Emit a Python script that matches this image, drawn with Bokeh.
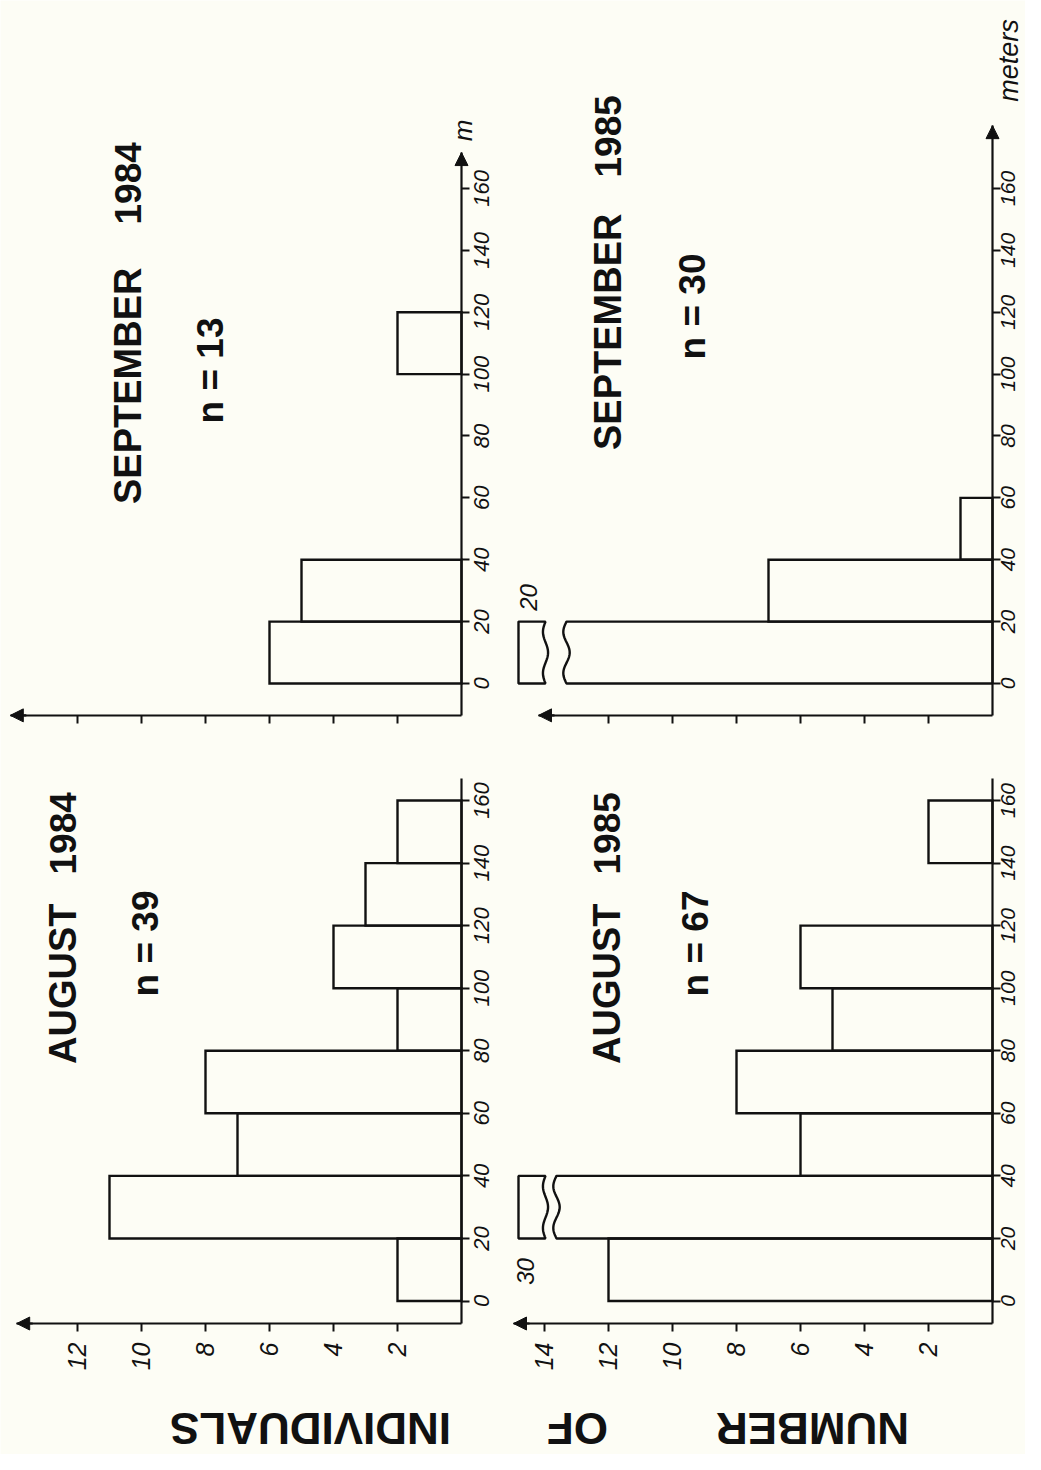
import math
import numpy as np
from bokeh.plotting import figure
from bokeh.models import Range1d, LinearAxis, FixedTicker, Arrow, NormalHead
from bokeh.core.properties import value
from bokeh.embed import file_html
from bokeh.resources import INLINE

# ---------------- data ----------------
bin_edges = [0, 20, 40, 60, 80, 100, 120, 140, 160]
meter_ticks = [0, 20, 40, 60, 80, 100, 120, 140, 160]
aug1984 = [2, 11, 7, 8, 2, 4, 3, 2]
sep1984 = [6, 5, 0, 0, 0, 2, 0, 0]
aug1985 = [12, 30, 6, 8, 5, 6, 0, 2]
sep1985 = [20, 7, 1, 0, 0, 0, 0, 0]
count_ticks_12 = [2, 4, 6, 8, 10, 12]
count_ticks_14 = [2, 4, 6, 8, 10, 12, 14]
months = ["SEPTEMBER", "SEPTEMBER", "AUGUST", "AUGUST"]
years = ["1984", "1985", "1984", "1985"]
n_values = [13, 30, 39, 67]
ylabel_words = ["NUMBER", "OF", "INDIVIDUALS"]

# ---------------- geometry (page is the landscape figure turned 90 deg) ----
W, H = 1025, 1454
PX_COUNT = 32.0
ZX_L, ZX_R = 461.0, 992.0          # px of count 0 (left / right column)
PXM_T, ZY_T = 3.094, 683.0         # top row: px per metre, px of 0 m
PXM_B, ZY_B = 3.128, 1300.5        # bottom row

cL = Range1d(start=ZX_L / PX_COUNT, end=(ZX_L - W) / PX_COUNT)
cR = Range1d(start=ZX_R / PX_COUNT, end=(ZX_R - W) / PX_COUNT)
mT = Range1d(start=(ZY_T - H) / PXM_T, end=ZY_T / PXM_T)
mB = Range1d(start=(ZY_B - H) / PXM_B, end=ZY_B / PXM_B)


# helpers placing annotations (titles, unit names) at page positions
def xL(X): return (ZX_L - X) / PX_COUNT
def xR(X): return (ZX_R - X) / PX_COUNT
def yT(Y): return (ZY_T - Y) / PXM_T
def yB(Y): return (ZY_B - Y) / PXM_B


BG = "#fdfdf5"
INK = "#111111"
TICK_FONT = "Liberation Sans"
TITLE_FONT = "Liberation Sans"

p = figure(width=W, height=H, x_range=cL, y_range=mT,
           x_axis_type=None, y_axis_type=None,
           toolbar_location=None, output_backend="svg", min_border=0)
p.extra_x_ranges = {"cR": cR}
p.extra_y_ranges = {"mB": mB}
p.outline_line_color = None
p.background_fill_color = BG
p.border_fill_color = BG


def wave(x0, y0, y1, amp, n=40):
    t = np.linspace(0.0, 1.0, n)
    ys = y0 + (y1 - y0) * t
    xs = x0 + amp * np.sin(t * 3.0 * np.pi)
    return list(xs), list(ys)


def style_axis(a):
    a.axis_line_width = 2.2
    a.axis_line_color = INK
    a.major_tick_line_width = 2
    a.major_tick_line_color = INK
    a.major_tick_out = 8
    a.major_tick_in = 0
    a.minor_tick_line_color = None


def panel(vals, xr, yr, axis_y, count_tip, meter_top, cticks, show_clabels,
          meter_arrow, label_off, label_size, month, year, n, month_end,
          year_start, n_pos, brk=None):
    kw = dict(x_range_name=xr, y_range_name=yr)
    # bars
    left, right, bottom, top = [], [], [], []
    for i, v in enumerate(vals):
        if v <= 0:
            continue
        if brk is not None and v > brk["limit"]:
            y0, y1 = bin_edges[i], bin_edges[i + 1]
            wx, wy = wave(brk["main_end"], y1, y0, 0.1)
            p.patch([0, 0] + wx, [y0, y1] + wy, fill_color=None,
                    line_color=INK, line_width=2.4, **kw)
            bx, by = wave(brk["box_near"], y1, y0, 0.08)
            p.patch([brk["box_far"], brk["box_far"]] + bx, [y0, y1] + by,
                    fill_color=None, line_color=INK, line_width=2.4, **kw)
            p.text(x=[brk["lab_x"]], y=[brk["lab_y"]], text=[str(v)],
                   angle=math.pi / 2, text_align="center", text_baseline="middle",
                   text_font=value(TICK_FONT), text_font_style="italic",
                   text_font_size="24px", text_color=INK, **kw)
            continue
        left.append(v); right.append(0)
        bottom.append(bin_edges[i]); top.append(bin_edges[i + 1])
    p.quad(left=left, right=right, bottom=bottom, top=top, fill_color=None,
           line_color=INK, line_width=2.4, line_join="miter", **kw)

    # count axis (the original vertical axis)
    ax = LinearAxis(fixed_location=axis_y, bounds=(0, count_tip),
                    ticker=FixedTicker(ticks=cticks), **kw)
    style_axis(ax)
    ax.major_label_orientation = math.pi / 2
    ax.major_label_text_font = TICK_FONT
    ax.major_label_text_font_style = "italic"
    ax.major_label_text_font_size = "25px"
    ax.major_label_text_color = INK
    ax.major_label_standoff = 11
    if not show_clabels:
        ax.major_label_overrides = {t: "" for t in cticks}
    p.add_layout(ax, "below")
    p.add_layout(Arrow(end=NormalHead(size=13, fill_color=INK, line_color=INK),
                       x_start=count_tip - 0.5, y_start=axis_y,
                       x_end=count_tip, y_end=axis_y,
                       line_color=INK, line_width=2.2, **kw))

    # metre axis (the original horizontal axis)
    ay = LinearAxis(fixed_location=0, bounds=(axis_y, meter_top),
                    ticker=FixedTicker(ticks=meter_ticks), **kw)
    style_axis(ay)
    ay.major_label_overrides = {t: "" for t in meter_ticks}
    p.add_layout(ay, "right")
    # metre tick labels, centred on their ticks and reading upward
    p.text(x=[0] * len(meter_ticks), y=meter_ticks,
           text=[str(t) for t in meter_ticks], x_offset=label_off,
           angle=math.pi / 2, text_align="center", text_baseline="top",
           text_font=value(TICK_FONT), text_font_style="italic",
           text_font_size=label_size, text_color=INK, **kw)
    if meter_arrow:
        p.add_layout(Arrow(end=NormalHead(size=13, fill_color=INK, line_color=INK),
                           x_start=0, y_start=meter_top - 3,
                           x_end=0, y_end=meter_top,
                           line_color=INK, line_width=2.2, **kw))

    # titles: month ends at month_end, year starts at year_start (reading upward)
    p.text(x=[month_end[0]], y=[month_end[1]], text=[month], angle=math.pi / 2,
           text_align="right", text_baseline="middle", text_font=value(TITLE_FONT),
           text_font_style="bold", text_font_size="38px", text_color=INK, **kw)
    p.text(x=[year_start[0]], y=[year_start[1]], text=[year], angle=math.pi / 2,
           text_align="left", text_baseline="middle", text_font=value(TITLE_FONT),
           text_font_style="bold", text_font_size="37px", text_color=INK, **kw)
    p.text(x=[n_pos[0]], y=[n_pos[1]], text=["n = %d" % n],
           angle=math.pi / 2, text_align="center", text_baseline="middle",
           text_font=value(TITLE_FONT), text_font_style="bold",
           text_font_size="37px", text_color=INK, **kw)


# top-left on the page: SEPTEMBER 1984
panel(sep1984, "default", "default", -10.3, 14.1, 171.6, count_ticks_12, False,
      True, 12, "22px", months[0], years[0], n_values[0],
      (xL(127), yT(267)), (xL(127), yT(224)), (xL(210), yT(370)))
# top-right: SEPTEMBER 1985
panel(sep1985, "cR", "default", -10.3, xR(538), 180.3, count_ticks_12, False,
      True, 8, "21px", months[1], years[1], n_values[1],
      (xR(607), yT(213)), (xR(607), yT(177)), (xR(692), yT(306)),
      brk=dict(limit=14, main_end=xR(566), box_near=xR(545), box_far=xR(518),
               lab_x=xR(528), lab_y=yT(597)))
# bottom-left: AUGUST 1984
panel(aug1984, "default", "mB", -7.2, 13.9, 167.0, count_ticks_12, True,
      False, 12, "22px", months[2], years[2], n_values[2],
      (xL(62), yB(903)), (xL(62), yB(874)), (xL(145), yB(943)))
# bottom-right: AUGUST 1985
panel(aug1985, "cR", "mB", -7.2, xR(513), 167.0, count_ticks_14, True,
      False, 8, "21px", months[3], years[3], n_values[3],
      (xR(606), yB(903)), (xR(606), yB(874)), (xR(695), yB(943)),
      brk=dict(limit=14, main_end=xR(556), box_near=xR(545), box_far=xR(518),
               lab_x=xR(525), lab_y=yB(1271)))

# unit labels at the ends of the distance axes
p.text(x=[xL(462)], y=[yT(130)], text=["m"], angle=math.pi / 2,
       text_align="center", text_baseline="middle",
       text_font=value(TICK_FONT), text_font_style="italic",
       text_font_size="26px", text_color=INK)
p.text(x=[xR(1008)], y=[yT(60)], text=["meters"], angle=math.pi / 2,
       text_align="center", text_baseline="middle",
       text_font=value(TICK_FONT), text_font_style="italic",
       text_font_size="27px", text_color=INK, x_range_name="cR")

# shared count label (the original vertical axis title, now upside down)
for word, xpos, xr in [(ylabel_words[0], xR(812), "cR"),
                       (ylabel_words[1], xR(577), "cR"),
                       (ylabel_words[2], xL(310), "default")]:
    p.text(x=[xpos], y=[yB(1428)], text=[word], angle=math.pi,
           text_align="center", text_baseline="middle",
           text_font=value(TITLE_FONT), text_font_style="bold",
           text_font_size="44px", text_color=INK,
           x_range_name=xr, y_range_name="mB")

open("out.html", "w").write(file_html(p, INLINE))
